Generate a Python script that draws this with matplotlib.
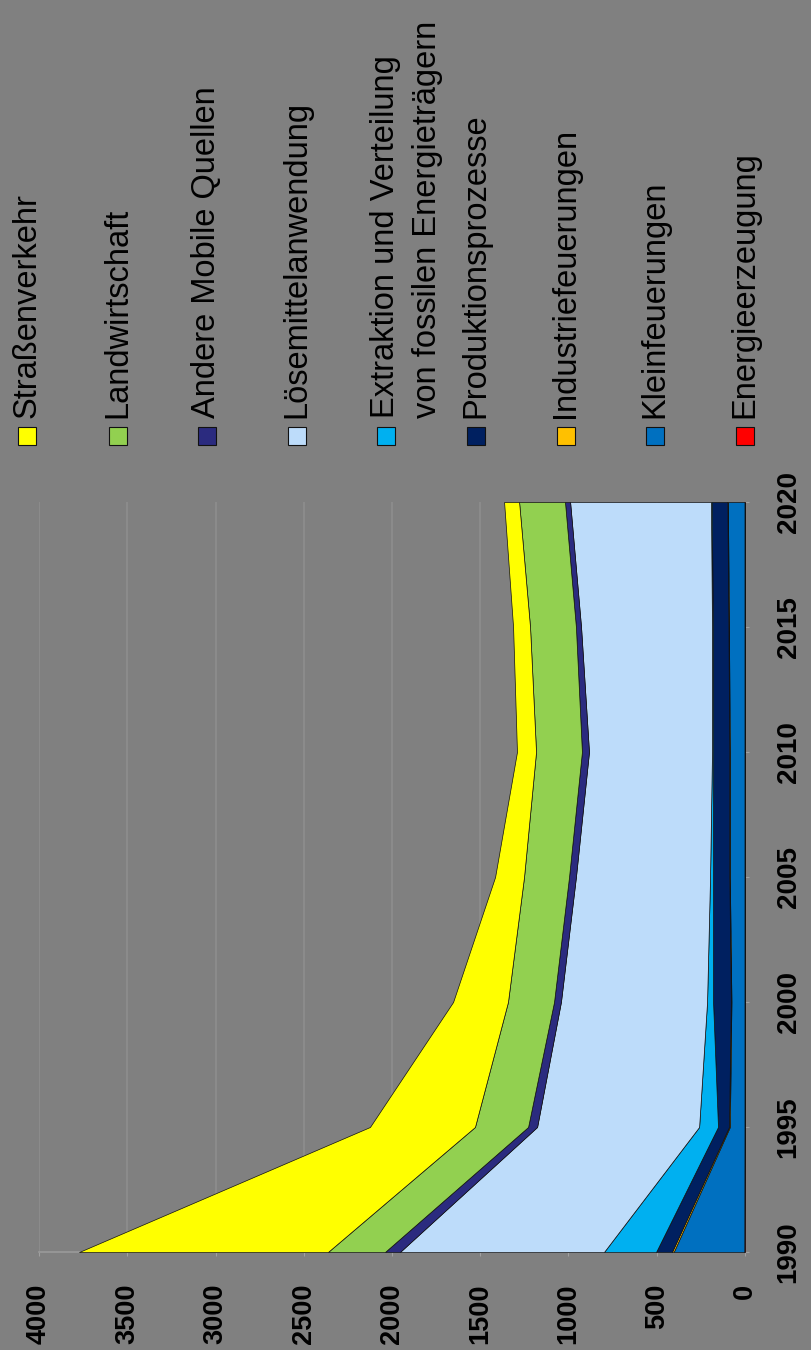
import numpy as np
import matplotlib.pyplot as plt
from matplotlib.patches import Rectangle

plt.rcParams['font.family'] = ['Liberation Sans', 'DejaVu Sans']

# Data (stacked from the zero line outwards)
years = [1990, 1995, 2000, 2005, 2010, 2015, 2020]

energie    = [4, 3, 3, 3, 3, 3, 3]
klein      = [400, 83, 74, 83, 83, 88, 94]
industrie  = [10, 5, 3, 3, 3, 3, 3]
produktion = [90, 62, 101, 92, 92, 89, 88]
extraktion = [295, 107, 34, 17, 6, 4, 5]
loesemittel = [1156, 918, 828, 760, 697, 742, 798]
andere     = [85, 51, 39, 39, 40, 29, 29]
landwirt   = [323, 301, 261, 255, 260, 260, 260]
strasse    = [1410, 595, 311, 164, 108, 96, 85]

series = [energie, klein, industrie, produktion, extraktion,
          loesemittel, andere, landwirt, strasse]
colors = ['#FF0000', '#0070C0', '#FFC000', '#002060', '#00B0F0',
          '#BDDCFA', '#2B2B7F', '#92D050', '#FFFF00']

# legend order (top of stack first)
legend_labels = ['Straßenverkehr', 'Landwirtschaft', 'Andere Mobile Quellen',
                 'Lösemittelanwendung', 'Extraktion und Verteilung',
                 'Produktionsprozesse', 'Industriefeuerungen',
                 'Kleinfeuerungen', 'Energieerzeugung']
legend_line2 = 'von fossilen Energieträgern'

value_ticks = [0, 500, 1000, 1500, 2000, 2500, 3000, 3500, 4000]
year_ticks = [1990, 1995, 2000, 2005, 2010, 2015, 2020]

W, H = 812, 1350
bg = '#808080'
fig = plt.figure(figsize=(W / 100, H / 100), dpi=100, facecolor=bg)

# chart area in pixel coords of the (rotated) picture
x0, x1 = 39, 745
ytop, ybot = 502, 1252
ax = fig.add_axes([x0 / W, (H - ybot) / H, (x1 - x0) / W, (ybot - ytop) / H])
ax.set_facecolor(bg)

y = np.array(years)
base = np.zeros(len(years))
for s, c in zip(series, colors):
    top = base + np.array(s)
    ax.fill_betweenx(y, base, top, facecolor=c, edgecolor='#111111',
                     linewidth=0.5, zorder=3)
    base = top

ax.set_xlim(4000, 0)
ax.set_ylim(1990, 2020)
ax.set_xticks(value_ticks)
ax.set_yticks(year_ticks)
ax.grid(axis='x', color='#8b8b8b', linewidth=1.5, zorder=0)
ax.grid(axis='y', visible=False)

for sp in ['top', 'left']:
    ax.spines[sp].set_visible(False)
ax.spines['bottom'].set_color('#9a9a9a')
ax.spines['right'].set_color('#c08080')
ax.spines['bottom'].set_linewidth(1.2)

ax.yaxis.tick_right()
ax.tick_params(axis='x', colors='#a0a0a0', length=3, pad=20, labelcolor='black')
ax.tick_params(axis='y', colors='#a0a0a0', length=3, pad=19, labelcolor='black')
for lab in ax.get_xticklabels():
    lab.set_rotation(90)
    lab.set_fontsize(19.5)
    lab.set_fontweight('bold')
for lab in ax.get_yticklabels():
    lab.set_rotation(90)
    lab.set_fontsize(20)
    lab.set_fontweight('bold')
    lab.set_va('center')

# legend, drawn rotated like the rest of the picture
leg_x = [27, 118, 207, 297, 386, 476, 566, 655, 745]
leg_colors = colors[::-1]
for lx, lab, c in zip(leg_x, legend_labels, leg_colors):
    fig.patches.append(Rectangle(((lx - 9) / W, (H - 445) / H), 18 / W, 18 / H,
                                 transform=fig.transFigure, facecolor=c,
                                 edgecolor='#111111', linewidth=0.8))
    fig.text(lx / W, (H - 418) / H, lab, rotation=90, rotation_mode='anchor',
             ha='left', va='center', fontsize=23.5, color='black')
fig.text(428 / W, (H - 418) / H, legend_line2, rotation=90, rotation_mode='anchor',
         ha='left', va='center', fontsize=23.5, color='black')

fig.savefig('out.png', dpi=100, facecolor=bg)
